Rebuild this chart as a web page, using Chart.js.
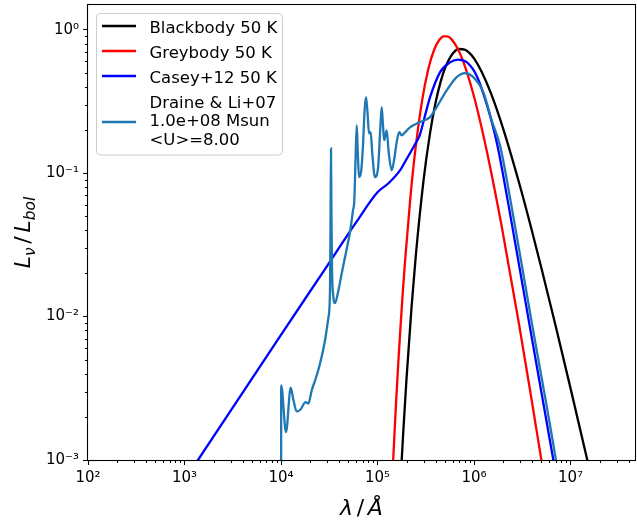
<!DOCTYPE html>
<html><head><meta charset="utf-8">
<script src="https://cdn.jsdelivr.net/npm/chart.js@4.4.1/dist/chart.umd.min.js"></script>
<style>html,body{margin:0;padding:0;background:#fff;}#wrap{width:637px;height:520px;}</style>
</head><body><div id="wrap"><canvas id="c" width="637" height="520"></canvas></div>
<script>
// ---- data (wavelength in Angstrom, L_nu / L_bol) ----
const seriesLabels = ['Blackbody 50 K', 'Greybody 50 K', 'Casey+12 50 K', 'Draine & Li+07\n1.0e+08 Msun\n<U>=8.00'];
const seriesColors = ['#000000', '#ff0000', '#0000ff', '#1f77b4'];

const bbLam = [1.5e5, 1.7e5, 1.85e5, 2.0e5, 2.25e5, 2.5e5, 3.0e5, 3.5e5, 4.0e5, 4.5e5, 5.0e5, 6.0e5, 7.0e5, 8.0e5, 9.0e5, 1.0e6, 1.2e6, 1.5e6, 2.0e6, 3.0e6, 4.0e6, 5.0e6, 7.0e6, 1.0e7, 1.5e7, 2.0e7];
const bbLum = [9.72e-5, 5.63e-4, 1.58e-3, 3.72e-3, 0.0115, 0.0271, 0.0890, 0.189, 0.310, 0.431, 0.537, 0.679, 0.733, 0.726, 0.686, 0.630, 0.509, 0.359, 0.205, 0.0810, 0.0392, 0.0217, 0.00865, 0.00317, 9.86e-4, 4.27e-4];

const gbLam = [1.352e5, 1.546e5, 1.642e5, 1.739e5, 1.835e5, 1.932e5, 2.174e5, 2.415e5, 2.898e5, 3.381e5, 3.864e5, 4.347e5, 4.83e5, 5.313e5, 5.796e5, 6.762e5, 7.728e5, 9.66e5, 1.159e6, 1.449e6, 1.932e6, 2.898e6, 3.864e6, 4.83e6, 5.796e6];
const gbLum = [3.67e-4, 2.30e-3, 4.75e-3, 8.87e-3, 0.01528, 0.02458, 0.0636, 0.1281, 0.3198, 0.5396, 0.724, 0.843, 0.897, 0.898, 0.862, 0.739, 0.600, 0.372, 0.229, 0.1154, 0.0429, 9.21e-3, 2.89e-3, 1.148e-3, 5.32e-4];

const csLam = [1.0e3, 1.38e3, 1.0e4, 3.0e4, 6.0e4, 1.0e5, 1.3e5, 1.71e5, 2.0e5, 2.4e5, 2.75e5, 3.1e5, 3.5e5, 4.44e5, 5.64e5, 6.82e5, 8.46e5, 1.074e6, 1.364e6, 1.731e6, 2.234e6, 3.8e6, 6.64e6, 8.77e6];
const csLum = [7.2e-4, 1.0e-3, 7.45e-3, 0.0225, 0.0453, 0.0735, 0.085, 0.1044, 0.125, 0.155, 0.185, 0.25, 0.337, 0.504, 0.591, 0.618, 0.591, 0.472, 0.297, 0.161, 0.0645, 8.40e-3, 1.0e-3, 3.39e-4];

const drLam = [1.0e4, 1.005e4, 1.127e4, 1.26e4, 1.348e4, 1.454e4, 1.593e4, 1.803e4, 1.919e4, 2.08e4, 2.307e4, 2.536e4, 2.857e4, 3.09e4, 3.22e4, 3.266e4, 3.297e4, 3.329e4, 3.377e4, 3.475e4, 3.627e4, 3.897e4, 4.256e4, 4.716e4, 5.19e4, 5.572e4, 5.75e4, 5.916e4, 6.09e4, 6.237e4, 6.43e4, 6.745e4, 7.075e4, 7.347e4, 7.6e4, 7.876e4, 8.165e4, 8.5e4, 8.81e4, 9.42e4, 1.012e5, 1.069e5, 1.105e5, 1.14e5, 1.173e5, 1.245e5, 1.306e5, 1.403e5, 1.483e5, 1.592e5, 1.682e5, 1.782e5, 1.927e5, 2.172e5, 2.757e5, 3.5e5, 4.107e5, 5.21e5, 6.617e5, 8.067e5, 9.83e5, 1.249e6, 1.525e6, 1.859e6, 2.36e6, 3.804e6, 7.076e6, 8.98e6];
const drLum = [1e-5, 3.31e-3, 1.563e-3, 3.20e-3, 2.60e-3, 2.18e-3, 2.25e-3, 2.53e-3, 2.47e-3, 3.05e-3, 3.76e-3, 4.69e-3, 6.81e-3, 9.7e-3, 0.0152, 0.055, 0.1487, 0.055, 0.02164, 0.01403, 0.0124, 0.01472, 0.01998, 0.028, 0.0388, 0.055, 0.0645, 0.1226, 0.2151, 0.144, 0.0938, 0.1011, 0.156, 0.2737, 0.3388, 0.265, 0.189, 0.193, 0.1394, 0.0938, 0.1078, 0.205, 0.2886, 0.2151, 0.169, 0.1985, 0.1394, 0.1044, 0.1226, 0.169, 0.193, 0.1832, 0.1922, 0.2084, 0.2268, 0.2457, 0.2886, 0.3773, 0.467, 0.498, 0.467, 0.367, 0.2331, 0.156, 0.0675, 0.01066, 9.92e-4, 3.49e-4];

const xTickVals = [1e2, 1e3, 1e4, 1e5, 1e6, 1e7];
const xTickLabels = ['10²', '10³', '10⁴', '10⁵', '10⁶', '10⁷'];
const yTickVals = [1e-3, 1e-2, 1e-1, 1];
const yTickLabels = ['10⁻³', '10⁻²', '10⁻¹', '10⁰'];
const minorMult = [2, 3, 4, 5, 6, 7, 8, 9];
const xRange = [1e2, 4.66e7];
const yRange = [1e-3, 1.485];

// ---- chart ----
Chart.defaults.font.family = "'DejaVu Sans', sans-serif";
const pts = (l, v) => l.map((x, i) => ({x: x, y: v[i]}));
const series = [[bbLam, bbLum], [gbLam, gbLum], [csLam, csLum], [drLam, drLum]];
const datasets = series.map((s, i) => ({
  label: seriesLabels[i],
  data: pts(s[0], s[1]),
  borderColor: seriesColors[i],
  backgroundColor: seriesColors[i],
  borderWidth: 2.3,
  pointRadius: 0,
  fill: false,
  cubicInterpolationMode: 'monotone',
  order: 4 - i,
  clip: 0
}));

function mathText(ctx, parts, size) {
  let w = 0;
  for (const p of parts) {
    const fs = p.sub ? size * 0.7 : size;
    ctx.font = (p.it ? 'italic ' : '') + fs + "px 'DejaVu Sans'";
    w += p.t ? ctx.measureText(p.t).width : 0;
    w += p.sp ? p.sp : 0;
  }
  return w;
}
function drawMath(ctx, parts, size, x, y) {
  let cx = x;
  for (const p of parts) {
    const fs = p.sub ? size * 0.7 : size;
    ctx.font = (p.it ? 'italic ' : '') + fs + "px 'DejaVu Sans'";
    if (p.t) { ctx.fillText(p.t, cx, y + (p.sub ? size * 0.22 : 0)); cx += ctx.measureText(p.t).width; }
    if (p.sp) cx += p.sp;
  }
}

const deco = {
  id: 'deco',
  afterDraw(chart) {
    const ctx = chart.ctx, a = chart.chartArea, xs = chart.scales.x, ys = chart.scales.y;
    ctx.save();
    ctx.strokeStyle = '#000';
    ctx.lineWidth = 1;
    // minor ticks
    ctx.beginPath();
    for (const d of xTickVals) {
      for (const m of minorMult) {
        const v = m * d;
        if (v >= xRange[1]) continue;
        const px = Math.round(xs.getPixelForValue(v)) + 0.5;
        ctx.moveTo(px, a.bottom); ctx.lineTo(px, a.bottom + 3);
      }
    }
    for (const d of yTickVals) {
      for (const m of minorMult) {
        const v = m * d;
        if (v >= yRange[1]) continue;
        const py = Math.round(ys.getPixelForValue(v)) + 0.5;
        ctx.moveTo(a.left, py); ctx.lineTo(a.left - 3, py);
      }
    }
    ctx.stroke();
    // spines
    ctx.lineWidth = 1.1;
    ctx.strokeRect(a.left - 0.5, a.top - 0.5, a.right - a.left + 1, a.bottom - a.top + 1);

    // axis titles
    ctx.fillStyle = '#000';
    ctx.textBaseline = 'alphabetic';
    ctx.textAlign = 'left';
    const sz = 22, th = sz / 6;
    const xl = [{t: 'λ', it: true, sp: th}, {t: '/', sp: th}, {t: 'Å', it: true}];
    const wx = mathText(ctx, xl, sz);
    drawMath(ctx, xl, sz, (a.left + a.right) / 2 - wx / 2, 515);
    const yl = [{t: 'L', it: true}, {t: 'ν', it: true, sub: true, sp: th}, {t: '/', sp: th}, {t: 'L', it: true}, {t: 'bol', it: true, sub: true}];
    const wy = mathText(ctx, yl, sz);
    ctx.save();
    ctx.translate(30, (a.top + a.bottom) / 2);
    ctx.rotate(-Math.PI / 2);
    drawMath(ctx, yl, sz, -wy / 2, 0);
    ctx.restore();

    // legend
    const bx = 96.5, by = 13.5, bw = 186, bh = 141.5, r = 4;
    ctx.beginPath();
    ctx.moveTo(bx + r, by); ctx.lineTo(bx + bw - r, by); ctx.arcTo(bx + bw, by, bx + bw, by + r, r);
    ctx.lineTo(bx + bw, by + bh - r); ctx.arcTo(bx + bw, by + bh, bx + bw - r, by + bh, r);
    ctx.lineTo(bx + r, by + bh); ctx.arcTo(bx, by + bh, bx, by + bh - r, r);
    ctx.lineTo(bx, by + r); ctx.arcTo(bx, by, bx + r, by, r); ctx.closePath();
    ctx.fillStyle = 'rgba(255,255,255,0.8)';
    ctx.fill();
    ctx.strokeStyle = '#cccccc'; ctx.lineWidth = 1; ctx.stroke();
    const rowsY = [26, 51, 76, 122];
    const baseY = [[32.5], [57.5], [82.5], [107.5, 126.2, 144.5]];
    ctx.font = "16.5px 'DejaVu Sans'";
    ctx.textBaseline = 'alphabetic';
    chart.data.datasets.forEach((ds, i) => {
      ctx.strokeStyle = ds.borderColor; ctx.lineWidth = 2.3;
      ctx.beginPath(); ctx.moveTo(102, rowsY[i]); ctx.lineTo(136, rowsY[i]); ctx.stroke();
      ctx.fillStyle = '#000';
      ds.label.split('\n').forEach((ln, k) => ctx.fillText(ln, 149.5, baseY[i][k]));
    });
    ctx.restore();
  }
};

new Chart(document.getElementById('c'), {
  type: 'line',
  data: {datasets: datasets},
  options: {
    responsive: false, animation: false, devicePixelRatio: 1,
    layout: {padding: {left: 0, right: 2, top: 5, bottom: 0}},
    plugins: {legend: {display: false}, tooltip: {enabled: false}},
    scales: {
      x: {
        type: 'logarithmic', position: 'bottom', min: xRange[0], max: xRange[1],
        afterBuildTicks: s => { s.ticks = xTickVals.map(v => ({value: v})); },
        afterFit: s => { s.height = 60; s.paddingLeft = 0; s.paddingRight = 0; },
        ticks: {autoSkip: false, maxRotation: 0, minRotation: 0, padding: 4, color: '#000', font: {size: 15},
          callback: (v, i) => xTickLabels[i]},
        grid: {display: true, drawOnChartArea: false, drawTicks: true, tickLength: 5, tickWidth: 1, tickColor: '#000'},
        border: {display: false}
      },
      y: {
        type: 'logarithmic', position: 'left', min: yRange[0], max: yRange[1],
        afterBuildTicks: s => { s.ticks = yTickVals.map(v => ({value: v})); },
        afterFit: s => { s.width = 88; s.paddingTop = 0; s.paddingBottom = 0; },
        ticks: {autoSkip: false, padding: 4, color: '#000', font: {size: 15},
          callback: (v, i) => yTickLabels[i]},
        grid: {display: true, drawOnChartArea: false, drawTicks: true, tickLength: 5, tickWidth: 1, tickColor: '#000'},
        border: {display: false}
      }
    }
  },
  plugins: [deco]
});
</script>
</body></html>
